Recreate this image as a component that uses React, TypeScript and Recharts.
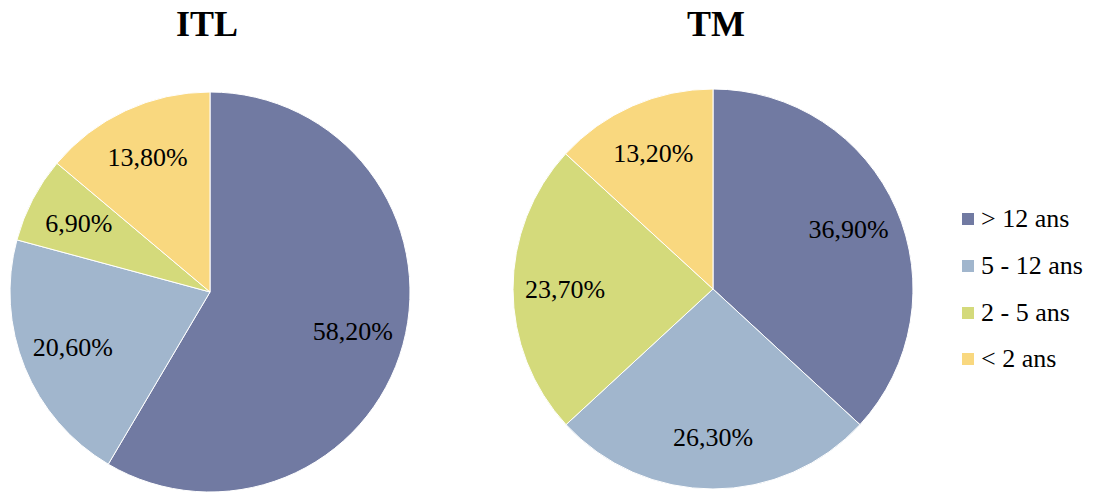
import { PieChart, Pie, Cell, Legend } from "recharts"

const categories = ["> 12 ans", "5 - 12 ans", "2 - 5 ans", "< 2 ans"]
const itlValues = [58.2, 20.6, 6.9, 13.8]
const tmValues = [36.9, 26.3, 23.7, 13.2]
const colors = ["#717AA2", "#A1B6CD", "#D4DA7B", "#F9D87F"]

const itlData = categories.map((name, i) => ({ name, value: itlValues[i] }))
const tmData = categories.map((name, i) => ({ name, value: tmValues[i] }))

const SERIF = "Liberation Serif, Times New Roman, DejaVu Serif, serif"
const RAD = Math.PI / 180
const fmt = (v: number) => v.toFixed(2).replace(".", ",") + "%"

// labels sit inside the slice, about three quarters out
const renderLabel = (props: any) => {
  const { cx, cy, midAngle, outerRadius, value } = props
  const r = outerRadius * 0.74
  const x = cx + r * Math.cos(-midAngle * RAD)
  const y = cy + r * Math.sin(-midAngle * RAD)
  return (
    <text
      x={x}
      y={y}
      fill="#000"
      textAnchor="middle"
      dominantBaseline="central"
      style={{ fontFamily: SERIF, fontSize: 26 }}
    >
      {fmt(value)}
    </text>
  )
}

const renderLegend = () => (
  <div style={{ fontFamily: SERIF, fontSize: 26, color: "#000" }}>
    {categories.map((c, i) => (
      <div key={c} style={{ display: "flex", alignItems: "center", height: 46.7 }}>
        <span style={{ display: "inline-block", width: 12, height: 12, background: colors[i], marginRight: 7 }} />
        <span>{c}</span>
      </div>
    ))}
  </div>
)

export default function App() {
  return (
    <div style={{ position: "absolute", left: 0, top: 0, width: 1094, height: 493, background: "#fff" }}>
      <PieChart width={1094} height={493} margin={{ top: 0, right: 0, bottom: 0, left: 0 }}>
        <text x={207} y={36} textAnchor="middle" style={{ fontFamily: SERIF, fontSize: 36, fontWeight: "bold" }}>
          ITL
        </text>
        <text x={716} y={36} textAnchor="middle" style={{ fontFamily: SERIF, fontSize: 36, fontWeight: "bold" }}>
          TM
        </text>
        <Pie
          data={itlData}
          dataKey="value"
          nameKey="name"
          cx={210}
          cy={292}
          outerRadius={200}
          startAngle={90}
          endAngle={-270}
          stroke="#fff"
          strokeWidth={1}
          label={renderLabel}
          labelLine={false}
          isAnimationActive={false}
        >
          {itlData.map((d, i) => (
            <Cell key={d.name} fill={colors[i]} />
          ))}
        </Pie>
        <Pie
          data={tmData}
          dataKey="value"
          nameKey="name"
          cx={713}
          cy={289}
          outerRadius={200}
          startAngle={90}
          endAngle={-270}
          stroke="#fff"
          strokeWidth={1}
          label={renderLabel}
          labelLine={false}
          isAnimationActive={false}
        >
          {tmData.map((d, i) => (
            <Cell key={d.name} fill={colors[i]} />
          ))}
        </Pie>
        <Legend content={renderLegend} wrapperStyle={{ left: 962, top: 196, width: 132 }} />
      </PieChart>
    </div>
  )
}
